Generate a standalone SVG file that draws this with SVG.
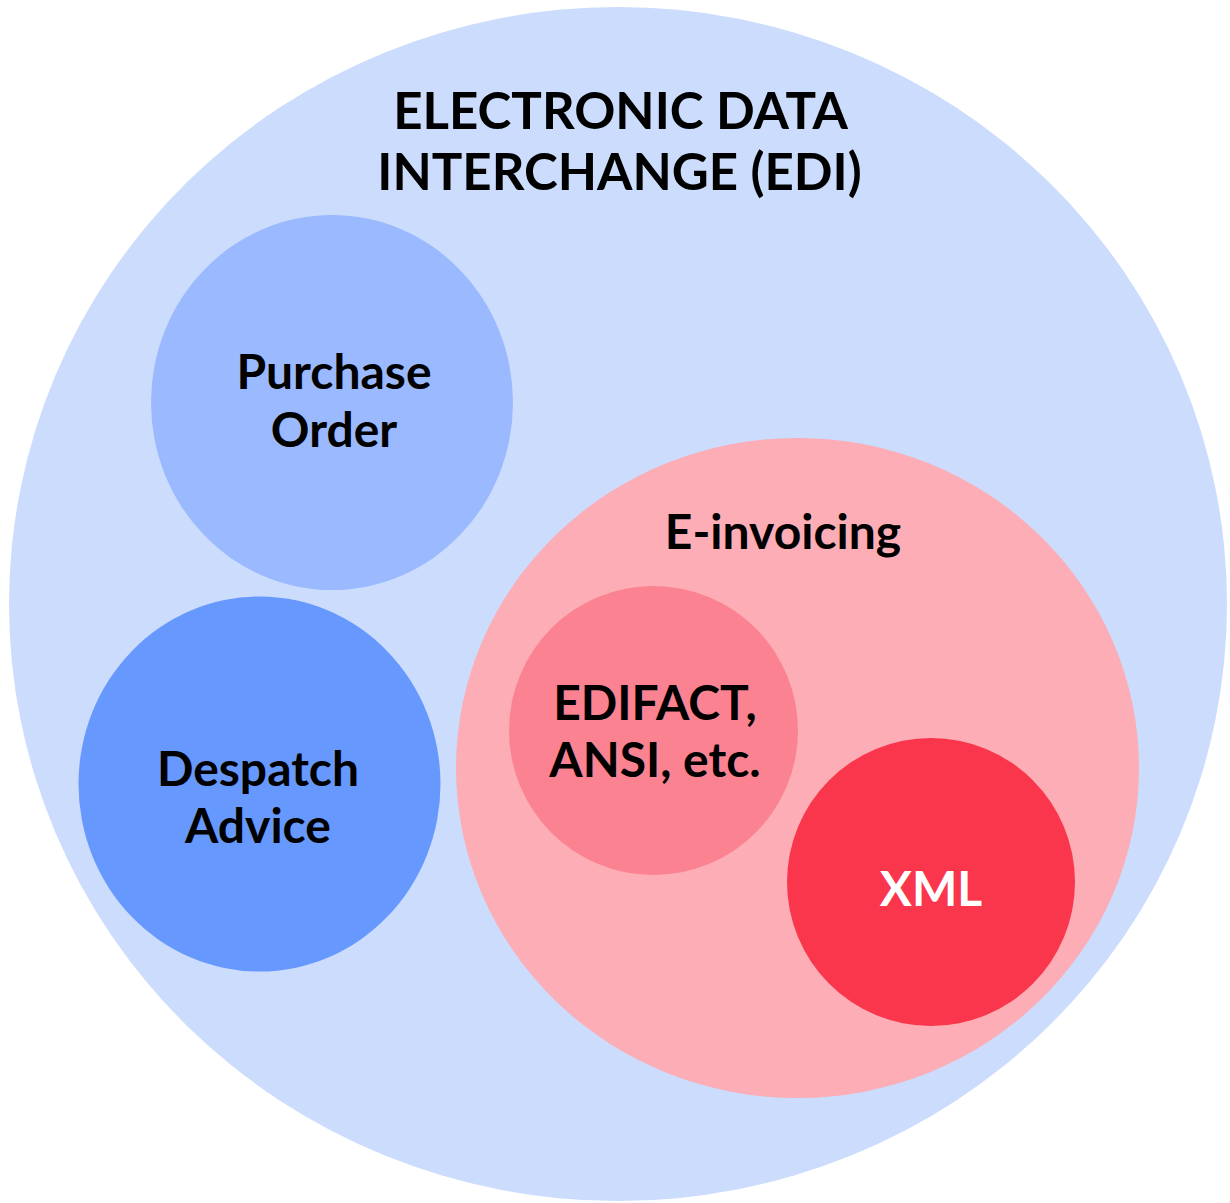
<svg xmlns="http://www.w3.org/2000/svg" width="1230" height="1203" viewBox="0 0 1230 1203">
<style>
text{font-family:Lato,"Liberation Sans",sans-serif;font-weight:700;font-size:48px;text-anchor:middle;fill:#000}
.t{font-size:51px}
.w{fill:#fff}
</style>
<rect width="1230" height="1203" fill="#fff"/>
<g id="edi">
<ellipse cx="618" cy="604" rx="609" ry="597" fill="#CCDCFD"/>
<text class="t" x="620.5" y="128.5">ELECTRONIC DATA</text>
<text class="t" x="619.5" y="190">INTERCHANGE (EDI)</text>
</g>
<g id="purchase-order">
<ellipse cx="332" cy="402.5" rx="181" ry="187.5" fill="#9AB9FE"/>
<text x="334" y="389">Purchase</text>
<text x="334" y="446.5">Order</text>
</g>
<g id="despatch-advice">
<ellipse cx="259.5" cy="784" rx="181" ry="187.5" fill="#6698FE"/>
<text x="258" y="786">Despatch</text>
<text x="258" y="843">Advice</text>
</g>
<g id="e-invoicing">
<ellipse cx="797.5" cy="768" rx="341.5" ry="330" fill="#FCADB5"/>
<text x="783" y="548.5">E-invoicing</text>
</g>
<g id="edifact">
<circle cx="653.5" cy="730.5" r="144.5" fill="#FB8391"/>
<text x="655" y="720">EDIFACT,</text>
<text x="655" y="777">ANSI, etc.</text>
</g>
<g id="xml">
<circle cx="931" cy="882" r="144" fill="#FA364C"/>
<text class="w" x="931" y="905.5">XML</text>
</g>
<g id="connectors"></g>
</svg>
